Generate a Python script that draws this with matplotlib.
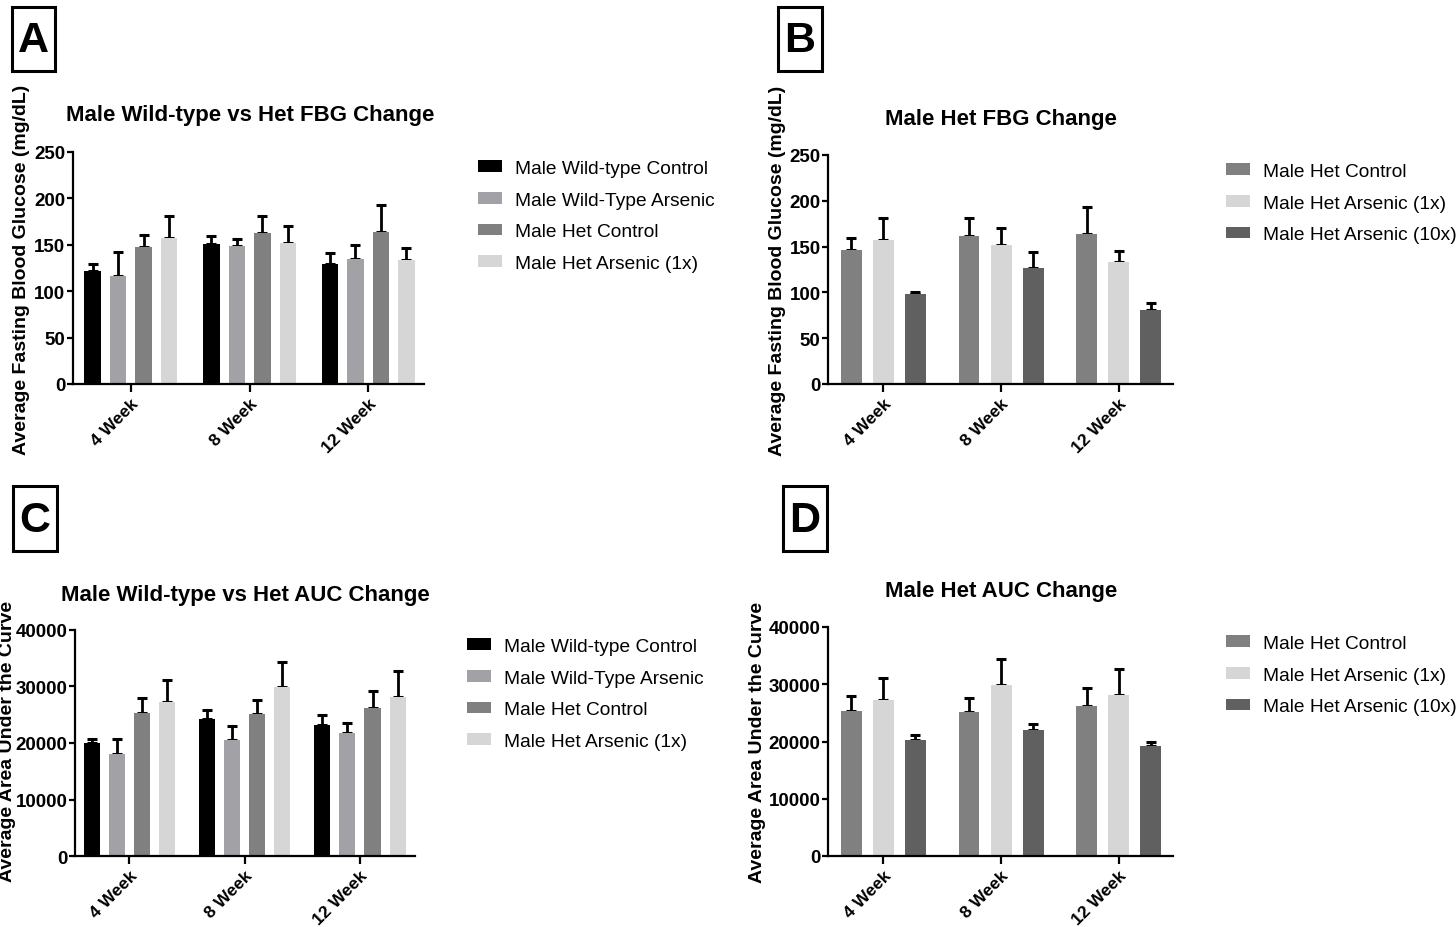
import matplotlib
matplotlib.use("Agg")
import matplotlib.pyplot as plt
from matplotlib.patches import Rectangle
import numpy as np

plt.rcParams['font.family'] = ['Liberation Sans', 'DejaVu Sans']

W, H = 1456, 928

weeks = ["4 Week", "8 Week", "12 Week"]

# Panel A: FBG (mg/dL), mean and upper error
labels_A = ["Male Wild-type Control", "Male Wild-Type Arsenic", "Male Het Control", "Male Het Arsenic (1x)"]
fbg_wt_ctrl = [122, 151, 129.5]
fbg_wt_ars = [116, 148.5, 135]
fbg_het_ctrl = [147, 162.5, 164]
fbg_het_ars1 = [157.5, 152, 133]
fbg_wt_ctrl_err = [7, 8, 11.5]
fbg_wt_ars_err = [26, 7.5, 15]
fbg_het_ctrl_err = [13, 18.5, 29]
fbg_het_ars1_err = [23.5, 18, 13]

# Panel B: FBG, Het groups
labels_B = ["Male Het Control", "Male Het Arsenic (1x)", "Male Het Arsenic (10x)"]
fbgB_ctrl = [146.6, 162, 164]
fbgB_ars1 = [157, 152, 133]
fbgB_ars10 = [98, 127, 81]
fbgB_ctrl_err = [12.5, 19, 29]
fbgB_ars1_err = [24, 18, 12.5]
fbgB_ars10_err = [2, 17, 7]

# Panel C: AUC
auc_wt_ctrl = [20060, 24235, 23235]
auc_wt_ars = [18060, 20530, 21700]
auc_het_ctrl = [25235, 25180, 26120]
auc_het_ars1 = [27180, 29940, 28120]
auc_wt_ctrl_err = [600, 1525, 1645]
auc_wt_ars_err = [2700, 2410, 1890]
auc_het_ctrl_err = [2705, 2470, 3120]
auc_het_ars1_err = [3880, 4350, 4580]

# Panel D: AUC, Het groups
aucD_ctrl = [25390, 25150, 26260]
aucD_ars1 = [27310, 29930, 28180]
aucD_ars10 = [20260, 21950, 19210]
aucD_ctrl_err = [2560, 2510, 3030]
aucD_ars1_err = [3840, 4480, 4540]
aucD_ars10_err = [880, 1165, 640]

col_wt_ctrl = "#000000"
col_wt_ars = "#a2a2a6"
col_het_ctrl = "#808080"
col_het_ars1 = "#d6d6d6"
col_het_ars10 = "#606060"

fig = plt.figure(figsize=(W / 100, H / 100), dpi=100)


def px_axes(left, right, top, bottom):
    return fig.add_axes([left / W, (H - bottom) / H, (right - left) / W, (bottom - top) / H])


def draw_panel(ax, series, errs, colors, labels, spacing, width, ylim, yticks, xlim):
    n = len(series)
    x = np.arange(len(weeks))
    handles = []
    for i, (vals, err, c, lab) in enumerate(zip(series, errs, colors, labels)):
        off = (i - (n - 1) / 2) * spacing
        b = ax.bar(x + off, vals, width, color=c, label=lab, zorder=2)
        ax.errorbar(x + off, vals, yerr=[np.zeros(len(err)), err], fmt='none',
                    ecolor='black', elinewidth=2.0, capsize=3.6, capthick=2.2, zorder=1)
        handles.append(b)
    ax.set_xlim(*xlim)
    ax.set_ylim(*ylim)
    ax.set_yticks(yticks)
    ax.set_xticks(x)
    ax.set_xticklabels(weeks, rotation=45, ha='right', rotation_mode='anchor',
                       fontsize=12.5, fontweight='bold')
    for lbl in ax.get_yticklabels():
        lbl.set_fontweight('bold')
        lbl.set_fontsize(13.5)
    for s in ['top', 'right']:
        ax.spines[s].set_visible(False)
    for s in ['left', 'bottom']:
        ax.spines[s].set_linewidth(1.6)
    ax.tick_params(axis='y', width=1.6, length=4.5, pad=0.8)
    ax.tick_params(axis='x', width=1.6, length=6, pad=2)
    return handles


axA = px_axes(72.7, 424, 152.7, 385)
hA = draw_panel(axA, [fbg_wt_ctrl, fbg_wt_ars, fbg_het_ctrl, fbg_het_ars1],
                [fbg_wt_ctrl_err, fbg_wt_ars_err, fbg_het_ctrl_err, fbg_het_ars1_err],
                [col_wt_ctrl, col_wt_ars, col_het_ctrl, col_het_ars1], labels_A,
                0.215, 0.139, (0, 250), [0, 50, 100, 150, 200, 250], (-0.49, 2.47))

axB = px_axes(828, 1173, 156, 385)
hB = draw_panel(axB, [fbgB_ctrl, fbgB_ars1, fbgB_ars10],
                [fbgB_ctrl_err, fbgB_ars1_err, fbgB_ars10_err],
                [col_het_ctrl, col_het_ars1, col_het_ars10], labels_B,
                0.272, 0.178, (0, 250), [0, 50, 100, 150, 200, 250], (-0.469, 2.46))

axC = px_axes(75, 415, 630.7, 857.3)
hC = draw_panel(axC, [auc_wt_ctrl, auc_wt_ars, auc_het_ctrl, auc_het_ars1],
                [auc_wt_ctrl_err, auc_wt_ars_err, auc_het_ctrl_err, auc_het_ars1_err],
                [col_wt_ctrl, col_wt_ars, col_het_ctrl, col_het_ars1], labels_A,
                0.217, 0.139, (0, 40000), [0, 10000, 20000, 30000, 40000], (-0.471, 2.477))

axD = px_axes(828, 1173, 628, 857)
hD = draw_panel(axD, [aucD_ctrl, aucD_ars1, aucD_ars10],
                [aucD_ctrl_err, aucD_ars1_err, aucD_ars10_err],
                [col_het_ctrl, col_het_ars1, col_het_ars10], labels_B,
                0.272, 0.178, (0, 40000), [0, 10000, 20000, 30000, 40000], (-0.469, 2.46))


def ftext(xp, yp, s, **kw):
    fig.text(xp / W, (H - yp) / H, s, **kw)


# titles
tkw = dict(ha='center', va='center', fontsize=16, fontweight='bold')
ftext(250, 116, "Male Wild-type vs Het FBG Change", **tkw)
ftext(1001, 120, "Male Het FBG Change", **tkw)
ftext(245, 595, "Male Wild-type vs Het AUC Change", **tkw)
ftext(1001, 592, "Male Het AUC Change", **tkw)

# y labels
ykw = dict(rotation=90, ha='center', va='center', fontsize=14, fontweight='bold')
ftext(22, 270, "Average Fasting Blood Glucose (mg/dL)", **ykw)
ftext(777, 271, "Average Fasting Blood Glucose (mg/dL)", **ykw)
ftext(8, 741, "Average Area Under the Curve", **ykw)
ftext(758, 742, "Average Area Under the Curve", **ykw)

# panel letters with boxes
for (x0, x1, y0, y1, s) in [(12, 55, 8, 72, "A"), (778, 822, 8, 72, "B"),
                            (13, 57, 487, 552, "C"), (783, 827, 487, 552, "D")]:
    fig.add_artist(Rectangle((x0 / W, (H - y1) / H), (x1 - x0) / W, (y1 - y0) / H,
                             transform=fig.transFigure, fill=False, ec='black', lw=2.2))
    ftext((x0 + x1) / 2, (y0 + y1) / 2 + 1, s, ha='center', va='center',
          fontsize=31, fontweight='bold')


# legends
def leg(handles, labels, xp, yp):
    fig.legend(handles, labels, loc='upper left', bbox_to_anchor=(xp / W, (H - yp) / H),
               frameon=False, fontsize=13.8, handlelength=1.27, handleheight=0.55,
               handletextpad=0.68, labelspacing=0.76, borderaxespad=0, borderpad=0)


leg(hA, labels_A, 478, 161)
leg(hB, labels_B, 1226, 164)
leg(hC, labels_A, 467, 639)
leg(hD, labels_B, 1226, 636)

fig.savefig("out.png", dpi=100, facecolor='white')
